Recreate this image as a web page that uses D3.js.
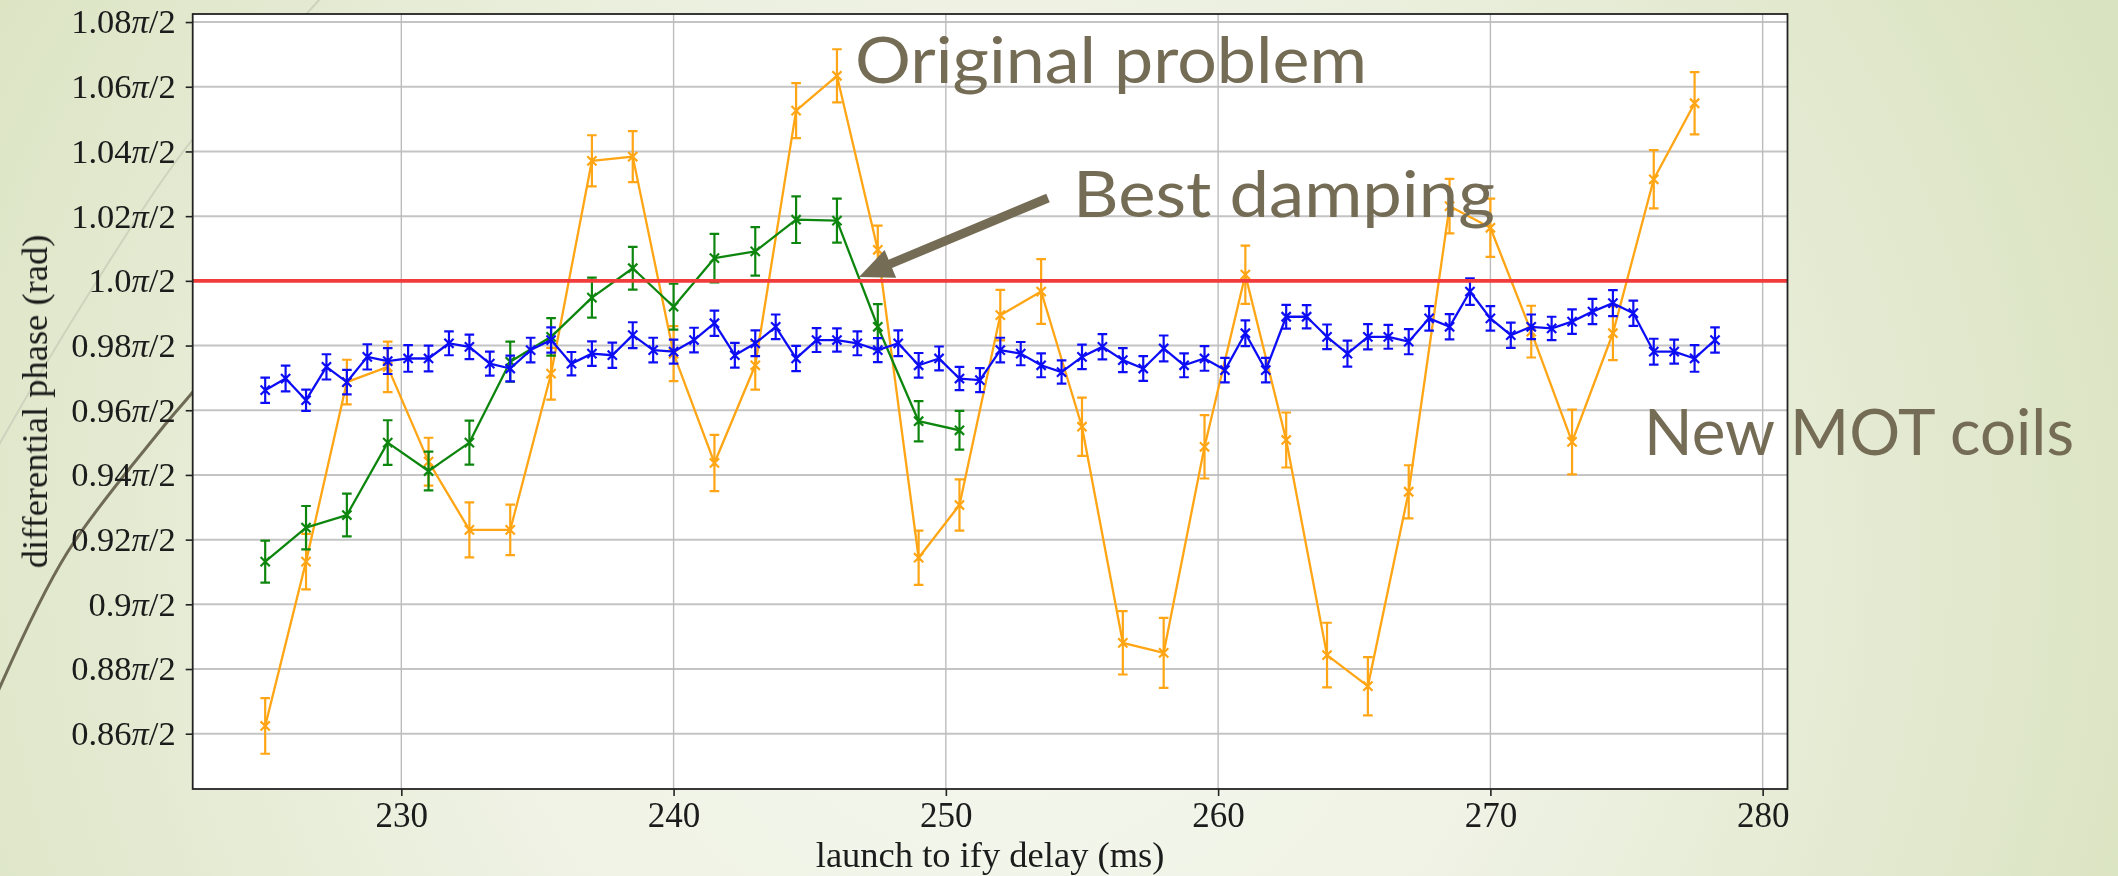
<!DOCTYPE html>
<html>
<head>
<meta charset="utf-8">
<script src="https://cdn.jsdelivr.net/npm/d3@7"></script>
<style>
  html, body { margin: 0; padding: 0; overflow: hidden; background: #eef1e2; }
  svg { display: block; }
</style>
</head>
<body>
<svg id="chart" width="2118" height="876"></svg>
<script>
// ---- data: differential phase (in units of pi/2) vs launch-to-ify delay ----
const blueX = [225, 225.75, 226.5, 227.25, 228, 228.75, 229.5, 230.25, 231, 231.75, 232.5, 233.25,
  234, 234.75, 235.5, 236.25, 237, 237.75, 238.5, 239.25, 240, 240.75, 241.5, 242.25,
  243, 243.75, 244.5, 245.25, 246, 246.75, 247.5, 248.25, 249, 249.75, 250.5, 251.25,
  252, 252.75, 253.5, 254.25, 255, 255.75, 256.5, 257.25, 258, 258.75, 259.5, 260.25,
  261, 261.75, 262.5, 263.25, 264, 264.75, 265.5, 266.25, 267, 267.75, 268.5, 269.25,
  270, 270.75, 271.5, 272.25, 273, 273.75, 274.5, 275.25, 276, 276.75, 277.5, 278.25];
const blueY = [0.9662, 0.9698, 0.9631, 0.9734, 0.9687, 0.9765, 0.9752, 0.9760, 0.9760, 0.9807, 0.9796, 0.9744,
  0.9729, 0.9786, 0.9817, 0.9744, 0.9775, 0.9770, 0.9832, 0.9786, 0.9781, 0.9817, 0.9869, 0.9770,
  0.9807, 0.9858, 0.9760, 0.9817, 0.9817, 0.9807, 0.9786, 0.9807, 0.9739, 0.9760, 0.9698, 0.9693,
  0.9786, 0.9775, 0.9739, 0.9718, 0.9765, 0.9796, 0.9755, 0.9729, 0.9791, 0.9739, 0.9760, 0.9724,
  0.9838, 0.9724, 0.9889, 0.9889, 0.9827, 0.9775, 0.9827, 0.9827, 0.9812, 0.9884, 0.9858, 0.9967,
  0.9884, 0.9832, 0.9858, 0.9853, 0.9874, 0.9905, 0.9931, 0.9900, 0.9781, 0.9781, 0.9760, 0.9817];
const blueErr = [0.0039, 0.0040, 0.0033, 0.0039, 0.0038, 0.0039, 0.0040, 0.0041, 0.0040, 0.0037, 0.0038, 0.0037,
  0.0040, 0.0038, 0.0039, 0.0036, 0.0038, 0.0039, 0.0040, 0.0038, 0.0037, 0.0038, 0.0039, 0.0038,
  0.0040, 0.0038, 0.0039, 0.0037, 0.0036, 0.0037, 0.0037, 0.0040, 0.0038, 0.0037, 0.0036, 0.0037,
  0.0038, 0.0036, 0.0037, 0.0036, 0.0038, 0.0039, 0.0037, 0.0038, 0.0040, 0.0037, 0.0038, 0.0038,
  0.0040, 0.0038, 0.0037, 0.0036, 0.0038, 0.0040, 0.0039, 0.0037, 0.0039, 0.0038, 0.0039, 0.0041,
  0.0038, 0.0039, 0.0038, 0.0036, 0.0038, 0.0039, 0.0040, 0.0039, 0.0040, 0.0037, 0.0041, 0.0039];

const orangeX = [225, 226.5, 228, 229.5, 231, 232.5, 234, 235.5, 237, 238.5, 240, 241.5,
  243, 244.5, 246, 247.5, 249, 250.5, 252, 253.5, 255, 256.5, 258, 259.5,
  261, 262.5, 264, 265.5, 267, 268.5, 270, 271.5, 273, 274.5, 276, 277.5];
const orangeY = [0.8624, 0.9132, 0.9687, 0.9734, 0.9441, 0.9230, 0.9230, 0.9713, 1.0371, 1.0384, 0.9775, 0.9437,
  0.9739, 1.0526, 1.0634, 1.0096, 0.9144, 0.9307, 0.9894, 0.9967, 0.9549, 0.8881, 0.8850, 0.9487,
  1.0019, 0.9508, 0.8843, 0.8747, 0.9348, 1.0231, 1.0164, 0.9843, 0.9502, 0.9838, 1.0314, 1.0549];
const orangeErr = [0.0086, 0.0086, 0.0069, 0.0078, 0.0074, 0.0085, 0.0078, 0.0080, 0.0079, 0.0079, 0.0085, 0.0087,
  0.0075, 0.0085, 0.0082, 0.0075, 0.0084, 0.0079, 0.0078, 0.0100, 0.0090, 0.0098, 0.0108, 0.0098,
  0.0090, 0.0085, 0.0100, 0.0090, 0.0082, 0.0084, 0.0090, 0.0080, 0.0100, 0.0083, 0.0090, 0.0096];

const greenX = [225, 226.5, 228, 229.5, 231, 232.5, 234, 235.5, 237, 238.5, 240, 241.5,
  243, 244.5, 246, 247.5, 249, 250.5];
const greenY = [0.9132, 0.9237, 0.9276, 0.9500, 0.9412, 0.9500, 0.9750, 0.9827, 0.9948, 1.0039, 0.9920, 1.0070,
  1.0091, 1.0189, 1.0186, 0.9858, 0.9566, 0.9538];
const greenErr = [0.0065, 0.0067, 0.0066, 0.0069, 0.0060, 0.0068, 0.0062, 0.0058, 0.0062, 0.0066, 0.0071, 0.0075,
  0.0075, 0.0072, 0.0068, 0.0070, 0.0062, 0.0060];

const referenceLevel = 1.0;
const xTicks = [230, 240, 250, 260, 270, 280];
const yTicks = [0.86, 0.88, 0.90, 0.92, 0.94, 0.96, 0.98, 1.00, 1.02, 1.04, 1.06, 1.08];
const yTickLabels = ["0.86", "0.88", "0.9", "0.92", "0.94", "0.96", "0.98", "1.0", "1.02", "1.04", "1.06", "1.08"];
const xLabel = "launch to ify delay (ms)";
const yLabel = "differential phase (rad)";
const notes = [
  { text: "Original problem", x: 855, y: 83, len: 512 },
  { text: "Best damping", x: 1073, y: 217, len: 422 },
  { text: "New MOT coils", x: 1644, y: 455, len: 430 }
];

// ---- layout ----
const W = 2118, H = 876;
const box = { left: 192.7, right: 1787.5, top: 14, bottom: 789 };
const serif = "'Liberation Serif', 'Times New Roman', serif";

const svg = d3.select("#chart");
const defs = svg.append("defs");

// slide background
const bg = defs.append("radialGradient").attr("id", "slideBg")
  .attr("gradientUnits", "userSpaceOnUse")
  .attr("cx", 1000).attr("cy", 560).attr("r", 1200);
bg.append("stop").attr("offset", "0").attr("stop-color", "#f6f8f0");
bg.append("stop").attr("offset", "0.45").attr("stop-color", "#eff2e4");
bg.append("stop").attr("offset", "1").attr("stop-color", "#dae3c1");
svg.append("rect").attr("width", W).attr("height", H).attr("fill", "url(#slideBg)");

// decorative strokes at the left edge of the slide
const curve = d3.line().curve(d3.curveCatmullRom);
svg.append("path")
  .attr("d", curve([[340, -25], [319, 0], [192, 140], [90, 292], [0, 443], [-20, 480]]))
  .attr("fill", "none").attr("stroke", "#cfd2bc").attr("stroke-width", 2);
svg.append("path")
  .attr("d", curve([[260, 310], [192, 393], [160.7, 430], [67, 553], [0, 687], [-15, 725]]))
  .attr("fill", "none").attr("stroke", "#6f6a56").attr("stroke-width", 3);

// ---- scales (matplotlib-style 5% margins) ----
const allX = blueX.concat(orangeX, greenX);
const xMin = d3.min(allX), xMax = d3.max(allX), xPad = (xMax - xMin) * 0.05;
const lows = [].concat(blueY.map((v, i) => v - blueErr[i]), orangeY.map((v, i) => v - orangeErr[i]), greenY.map((v, i) => v - greenErr[i]));
const highs = [].concat(blueY.map((v, i) => v + blueErr[i]), orangeY.map((v, i) => v + orangeErr[i]), greenY.map((v, i) => v + greenErr[i]));
const yMin = d3.min(lows), yMax = d3.max(highs), yPad = (yMax - yMin) * 0.05;

const x = d3.scaleLinear().domain([xMin - xPad, xMax + xPad]).range([box.left, box.right]);
const y = d3.scaleLinear().domain([yMin - yPad, yMax + yPad]).range([box.bottom, box.top]);

defs.append("clipPath").attr("id", "plotClip").append("rect")
  .attr("x", box.left).attr("y", box.top)
  .attr("width", box.right - box.left).attr("height", box.bottom - box.top);

const soft = defs.append("filter").attr("id", "soft").attr("x", "-5%").attr("y", "-5%").attr("width", "110%").attr("height", "110%");
soft.append("feGaussianBlur").attr("stdDeviation", 0.55);

const fig = svg.append("g").attr("filter", "url(#soft)");

// axes face
fig.append("rect")
  .attr("x", box.left).attr("y", box.top)
  .attr("width", box.right - box.left).attr("height", box.bottom - box.top)
  .attr("fill", "#ffffff");

// grid
const grid = fig.append("g").attr("clip-path", "url(#plotClip)");
grid.selectAll("line.h").data(yTicks).join("line")
  .attr("x1", box.left).attr("x2", box.right)
  .attr("y1", d => y(d)).attr("y2", d => y(d))
  .attr("stroke", "#c4c4c4").attr("stroke-width", 2);
grid.selectAll("line.v").data(xTicks).join("line")
  .attr("y1", box.top).attr("y2", box.bottom)
  .attr("x1", d => x(d)).attr("x2", d => x(d))
  .attr("stroke", "#bcbcbc").attr("stroke-width", 1.4);

// series with error bars
function drawSeries(xs, ys, es, color) {
  const g = fig.append("g").attr("clip-path", "url(#plotClip)");
  const pts = xs.map((v, i) => ({ x: v, y: ys[i], e: es[i] }));
  g.append("path")
    .attr("d", d3.line().x(d => x(d.x)).y(d => y(d.y))(pts))
    .attr("fill", "none").attr("stroke", color).attr("stroke-width", 2.3)
    .attr("stroke-linejoin", "round");
  const cap = 4.8, mk = 4.6;
  const eb = g.append("g").attr("stroke", color).attr("stroke-width", 2.2).attr("fill", "none");
  eb.selectAll("path").data(pts).join("path")
    .attr("d", d => {
      const cx = x(d.x), lo = y(d.y - d.e), hi = y(d.y + d.e), cy = y(d.y);
      return `M${cx},${lo}V${hi}` +
        `M${cx - cap},${hi}H${cx + cap}` +
        `M${cx - cap},${lo}H${cx + cap}` +
        `M${cx - mk},${cy - mk}L${cx + mk},${cy + mk}` +
        `M${cx - mk},${cy + mk}L${cx + mk},${cy - mk}`;
    });
}
drawSeries(orangeX, orangeY, orangeErr, "#ffa512");
drawSeries(greenX, greenY, greenErr, "#118611");
drawSeries(blueX, blueY, blueErr, "#1010f5");

// reference level
fig.append("line")
  .attr("x1", box.left).attr("x2", box.right)
  .attr("y1", y(referenceLevel)).attr("y2", y(referenceLevel))
  .attr("stroke", "#f23a3a").attr("stroke-width", 3.6);

// spines
fig.append("rect")
  .attr("x", box.left).attr("y", box.top)
  .attr("width", box.right - box.left).attr("height", box.bottom - box.top)
  .attr("fill", "none").attr("stroke", "#222").attr("stroke-width", 1.8);

// x axis
const xAxis = fig.append("g").attr("transform", `translate(0,${box.bottom})`)
  .call(d3.axisBottom(x).tickValues(xTicks).tickSize(7).tickPadding(6).tickFormat(d3.format("d")));
xAxis.select(".domain").remove();
xAxis.selectAll(".tick line").attr("stroke", "#222").attr("stroke-width", 1.6);
xAxis.selectAll(".tick text")
  .attr("font-family", serif)
  .attr("font-size", 35).attr("fill", "#1a1a1a");

// y axis
const yAxis = fig.append("g").attr("transform", `translate(${box.left},0)`)
  .call(d3.axisLeft(y).tickValues(yTicks).tickSize(7).tickFormat(() => ""));
yAxis.select(".domain").remove();
yAxis.selectAll(".tick line").attr("stroke", "#222").attr("stroke-width", 1.6);
yAxis.selectAll(".tick text").remove();
const yLab = fig.append("g")
  .attr("font-family", serif)
  .attr("font-size", 34.5).attr("fill", "#1a1a1a").attr("text-anchor", "end");
yTicks.forEach((v, i) => {
  const t = yLab.append("text").attr("x", box.left - 17).attr("y", y(v)).attr("dy", "0.33em");
  t.append("tspan").text(yTickLabels[i]);
  t.append("tspan").attr("font-style", "italic").text("π");
  t.append("tspan").text("/2");
});

// axis titles
fig.append("text")
  .attr("x", (box.left + box.right) / 2).attr("y", 867)
  .attr("text-anchor", "middle")
  .attr("font-family", serif)
  .attr("font-size", 36.5).attr("fill", "#1a1a1a")
  .text(xLabel);
fig.append("text")
  .attr("transform", `translate(47,${(box.top + box.bottom) / 2}) rotate(-90)`)
  .attr("text-anchor", "middle")
  .attr("font-family", serif)
  .attr("font-size", 36.5).attr("fill", "#1a1a1a")
  .text(yLabel);

// ---- slide annotations ----
const noteColor = "#756c55";
svg.append("g").selectAll("text").data(notes).join("text")
  .attr("x", d => d.x).attr("y", d => d.y)
  .attr("textLength", d => d.len)
  .attr("lengthAdjust", "spacingAndGlyphs")
  .attr("font-family", "Lato, 'Open Sans', sans-serif")
  .attr("font-weight", 400)
  .attr("font-size", 64).attr("fill", noteColor)
  .text(d => d.text);

// arrow pointing at the green curve's crossing of the reference level
const tail = [1048, 198], tip = [859, 277];
const dx = tip[0] - tail[0], dy = tip[1] - tail[1], len = Math.hypot(dx, dy);
const ux = dx / len, uy = dy / len, headLen = 34, headHalf = 15;
const base = [tip[0] - ux * headLen, tip[1] - uy * headLen];
svg.append("line")
  .attr("x1", tail[0]).attr("y1", tail[1]).attr("x2", base[0] + ux * 4).attr("y2", base[1] + uy * 4)
  .attr("stroke", noteColor).attr("stroke-width", 9);
svg.append("path")
  .attr("d", `M${tip[0]},${tip[1]}L${base[0] - uy * headHalf},${base[1] + ux * headHalf}L${base[0] + uy * headHalf},${base[1] - ux * headHalf}Z`)
  .attr("fill", noteColor);
</script>
</body>
</html>
